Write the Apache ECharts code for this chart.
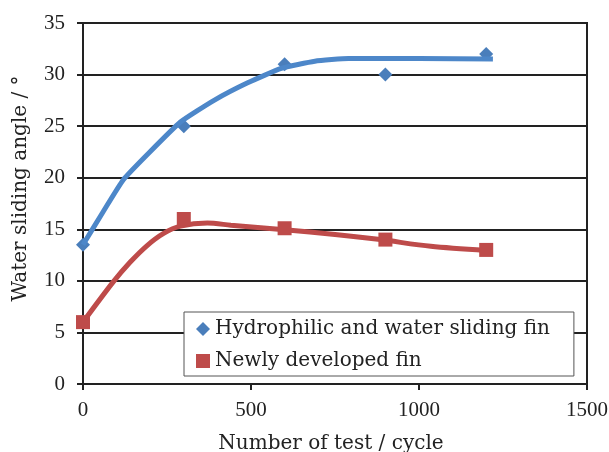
<!DOCTYPE html>
<html>
<head>
<meta charset="utf-8">
<script src="https://cdn.jsdelivr.net/npm/echarts@6/dist/echarts.min.js"></script>
<style>
html,body{margin:0;padding:0;background:#fff;}
#c{width:609px;height:452px;}
</style>
</head>
<body>
<div id="c"></div>
<script>
// measured points
var cycles = [0, 300, 600, 900, 1200];
var hydrophilic = [13.5, 25, 31, 30, 32];
var newlyDeveloped = [6, 16, 15.1, 14, 13];
// smoothed trend curves: [cycle, angle]
var hydrophilicTrend = [[0,13.5],[60,16.7],[120,19.8],[190,22.2],[290,25.4],[390,27.5],[490,29.2],[590,30.6],[690,31.3],[790,31.55],[1000,31.55],[1220,31.5]];
var newlyTrend = [[0,6],[90,9.9],[140,11.8],[190,13.4],[240,14.6],[290,15.3],[370,15.6],[440,15.4],[600,14.95],[750,14.5],[885,14.0],[1035,13.35],[1200,12.95]];
var seriesNames = ['Hydrophilic and water sliding fin', 'Newly developed fin'];
var xTicks = {min: 0, max: 1500, interval: 500};
var yTicks = {min: 0, max: 35, interval: 5};

function pairs(xs, ys){ return xs.map(function(x,i){ return [x, ys[i]]; }); }

var chart = echarts.init(document.getElementById('c'));
var axisFont = {fontFamily: 'Liberation Serif', fontSize: 21, color: '#222'};
chart.setOption({
  animation: false,
  grid: {left: 83, right: 22, top: 23, bottom: 68, containLabel: false, outerBoundsMode: 'none',
         show: true, borderColor: '#222', borderWidth: 2, backgroundColor: 'transparent'},
  legend: {
    orient: 'vertical', left: 184, top: 312,
    backgroundColor: '#fff', borderColor: '#555', borderWidth: 1,
    padding: [6, 24, 4, 12], itemGap: 10, itemWidth: 14, itemHeight: 14, itemTextGap: 3,
    textStyle: {fontFamily: 'DejaVu Serif', fontSize: 20, color: '#222', lineHeight: 22},
    data: [
      {name: seriesNames[0], icon: 'diamond'},
      {name: seriesNames[1], icon: 'rect'}
    ]
  },
  xAxis: {
    type: 'value', min: xTicks.min, max: xTicks.max, interval: xTicks.interval,
    name: 'Number of test / cycle', nameLocation: 'middle', nameGap: 50,
    nameTextStyle: {fontFamily: 'DejaVu Serif', fontSize: 20, color: '#222', padding: [0, 8, 0, 0]},
    axisLine: {show: true, lineStyle: {color: '#222', width: 2}},
    axisTick: {show: true, inside: false, length: 6, lineStyle: {color: '#222', width: 2}},
    axisLabel: Object.assign({margin: 16, formatter: function(v){ return String(v); }}, axisFont),
    splitLine: {show: false}
  },
  yAxis: {
    type: 'value', min: yTicks.min, max: yTicks.max, interval: yTicks.interval,
    name: 'Water sliding angle / °', nameLocation: 'middle', nameGap: 52,
    nameTextStyle: {fontFamily: 'DejaVu Serif', fontSize: 20, color: '#222', padding: [0, 0, 0, 30]},
    axisLine: {show: true, lineStyle: {color: '#222', width: 2}},
    axisTick: {show: true, inside: false, length: 6, lineStyle: {color: '#222', width: 2}},
    axisLabel: Object.assign({margin: 18, formatter: function(v){ return String(v); }}, axisFont),
    splitLine: {show: true, lineStyle: {color: '#222', width: 2}}
  },
  series: [
    {name: seriesNames[0], type: 'scatter', symbol: 'diamond', symbolSize: 14, z: 2,
     itemStyle: {color: '#4a7ebb', opacity: 1}, data: pairs(cycles, hydrophilic)},
    {name: seriesNames[1], type: 'scatter', symbol: 'rect', symbolSize: 14, z: 2,
     itemStyle: {color: '#be4b4a', opacity: 1}, data: pairs(cycles, newlyDeveloped)},
    {name: 'trend1', type: 'line', smooth: 0.15, showSymbol: false, symbol: 'none', z: 3,
     lineStyle: {color: '#4d87c9', width: 5}, data: hydrophilicTrend},
    {name: 'trend2', type: 'line', smooth: 0.3, showSymbol: false, symbol: 'none', z: 1,
     lineStyle: {color: '#be4b4a', width: 5}, data: newlyTrend}
  ]
});
</script>
</body>
</html>
